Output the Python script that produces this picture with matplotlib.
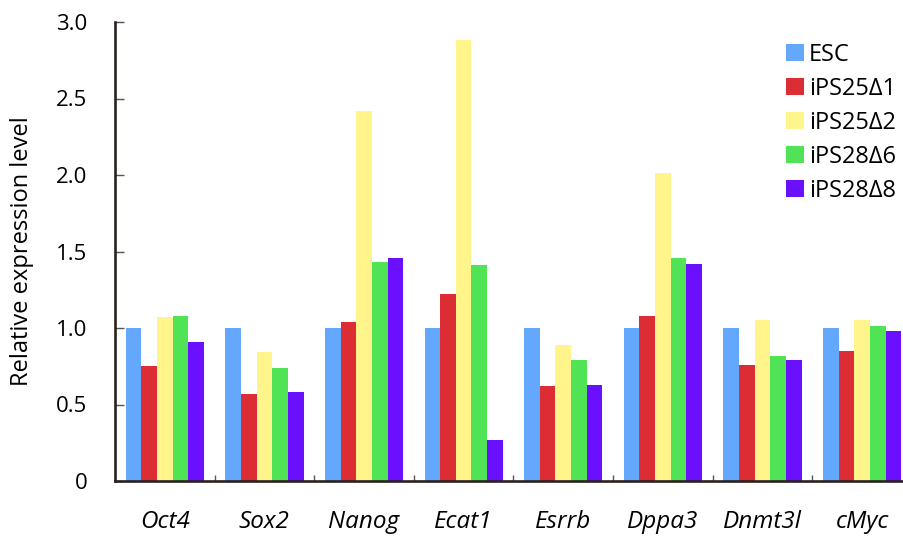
import numpy as np
import matplotlib
matplotlib.use("Agg")
import matplotlib.pyplot as plt
from matplotlib.ticker import FixedLocator

plt.rcParams["font.family"] = ["Open Sans", "DejaVu Sans"]

genes = ["Oct4", "Sox2", "Nanog", "Ecat1", "Esrrb", "Dppa3", "Dnmt3l", "cMyc"]
samples = ["ESC", "iPS25Δ1", "iPS25Δ2", "iPS28Δ6", "iPS28Δ8"]

esc = [1.00, 1.00, 1.00, 1.00, 1.00, 1.00, 1.00, 1.00]
ips25_d1 = [0.75, 0.57, 1.04, 1.22, 0.62, 1.08, 0.76, 0.85]
ips25_d2 = [1.07, 0.84, 2.42, 2.88, 0.89, 2.01, 1.05, 1.05]
ips28_d6 = [1.08, 0.74, 1.43, 1.41, 0.79, 1.46, 0.82, 1.01]
ips28_d8 = [0.91, 0.58, 1.46, 0.27, 0.63, 1.42, 0.79, 0.98]

yticks = [0, 0.5, 1.0, 1.5, 2.0, 2.5, 3.0]
ytick_labels = ["0", "0.5", "1.0", "1.5", "2.0", "2.5", "3.0"]

colors = ["#63A8FD", "#DC2D35", "#FFF58B", "#50E356", "#6A10FE"]
series = [esc, ips25_d1, ips25_d2, ips28_d6, ips28_d8]

fig = plt.figure(figsize=(9.04, 5.37), dpi=100)
ax = fig.add_axes([115 / 904, 1 - 481 / 537, 1 - 115 / 904, (481 - 22) / 537])

x = np.arange(len(genes))
width = 0.157
for i, (vals, col, name) in enumerate(zip(series, colors, samples)):
    ax.bar(x + (i - 2) * width, vals, width, color=col, label=name, linewidth=0)

ax.set_xlim(-0.5, 7.42)
ax.set_ylim(0, 3.0)

spine_col = "#2B2020"
for side in ("top", "right"):
    ax.spines[side].set_visible(False)
for side in ("left", "bottom"):
    ax.spines[side].set_color(spine_col)
    ax.spines[side].set_linewidth(1.9)

ax.set_yticks(yticks)
ax.set_yticklabels(ytick_labels, fontsize=16)
ax.tick_params(axis="y", direction="in", length=6.5, width=1, color="#555555", pad=20)

ax.set_xticks(x)
ax.set_xticklabels(genes, fontsize=17.5, style="italic")
ax.tick_params(axis="x", which="major", length=0, pad=21)
ax.xaxis.set_minor_locator(FixedLocator(np.arange(0.5, len(genes) - 1, 1.0)))
ax.tick_params(axis="x", which="minor", direction="in", length=4.5, width=1, color="#555555")

ax.set_ylabel("Relative expression level", fontsize=17)
ax.yaxis.set_label_coords(-0.103, 0.5)

ax.legend(loc="upper left", bbox_to_anchor=(786 / 904, 1 - 43 / 537),
          bbox_transform=fig.transFigure, frameon=False, fontsize=17,
          borderpad=0, borderaxespad=0, handlelength=0.76, handleheight=0.76,
          handletextpad=0.22, labelspacing=0.42)

fig.savefig("out.png", dpi=100)
